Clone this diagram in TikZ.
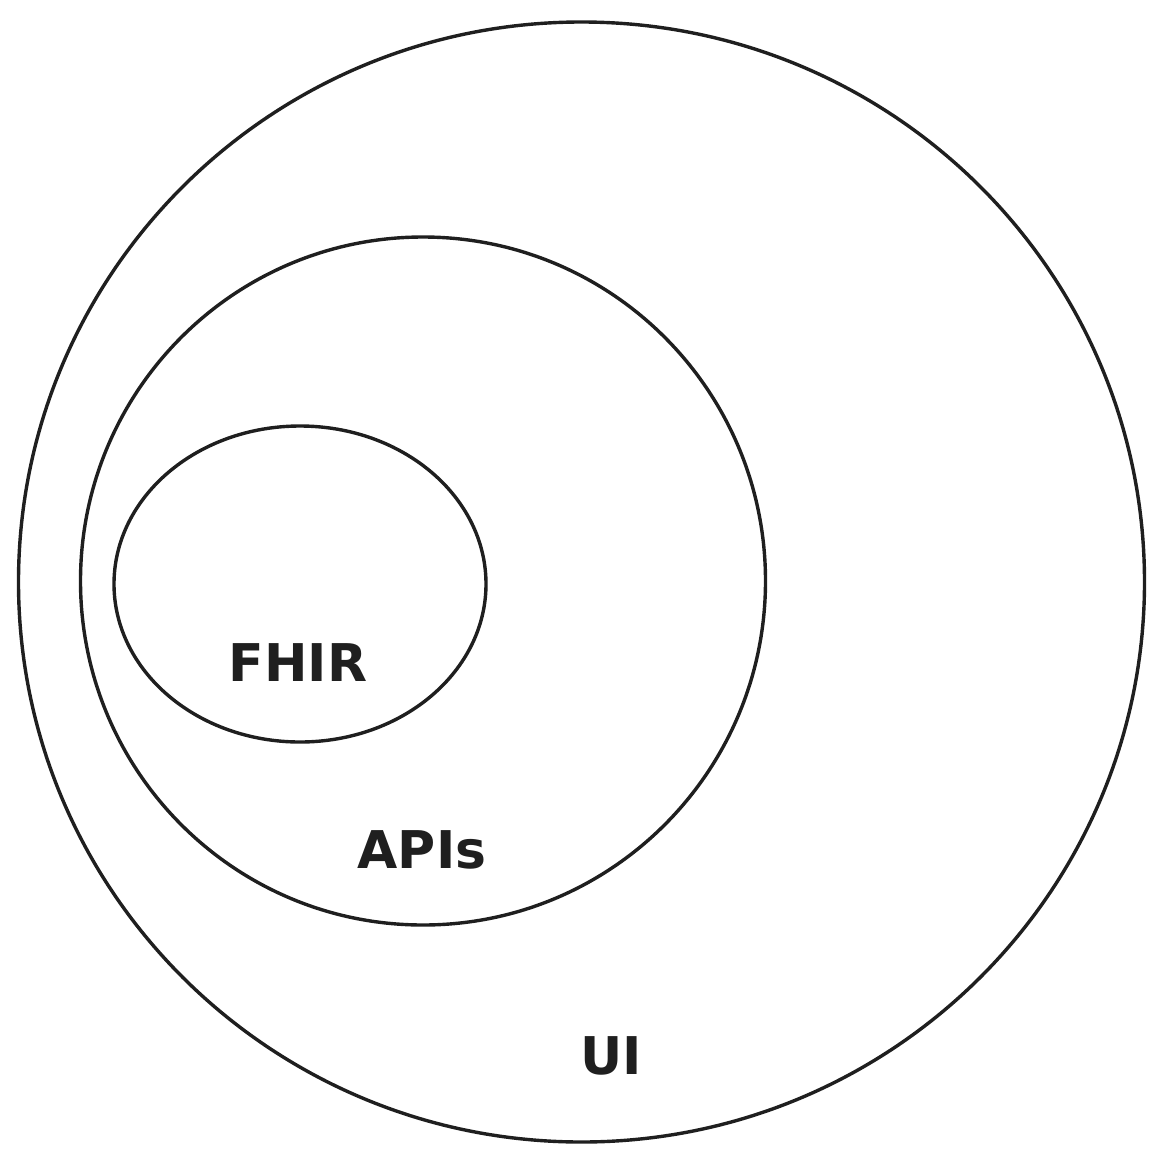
\documentclass[tikz,border=0pt]{standalone}
\usepackage{fontspec}
\setmainfont{DejaVu Sans}
\usetikzlibrary{shapes.geometric}
\begin{document}
\begin{tikzpicture}[x=1pt,y=-1pt,
  ring/.style={draw=black!88,line width=3.4pt,ellipse,inner sep=0pt},
  lbl/.style={font=\fontsize{52}{56}\selectfont\bfseries,text=black!88,inner sep=0pt}]
\useasboundingbox (0,0) rectangle (1165,1160);
\node[ring,minimum width=1126pt,minimum height=1120pt] (ui) at (581.5,582) {};
\node[ring,minimum width=685pt,minimum height=688pt] (apis) at (423,581) {};
\node[ring,minimum width=372pt,minimum height=316pt] (fhir) at (300,584) {};
\node[lbl] (tf) at (298,663) {FHIR};
\node[lbl] (ta) at (422,850) {APIs};
\node[lbl] (tu) at (611,1056) {UI};
\end{tikzpicture}
\end{document}
